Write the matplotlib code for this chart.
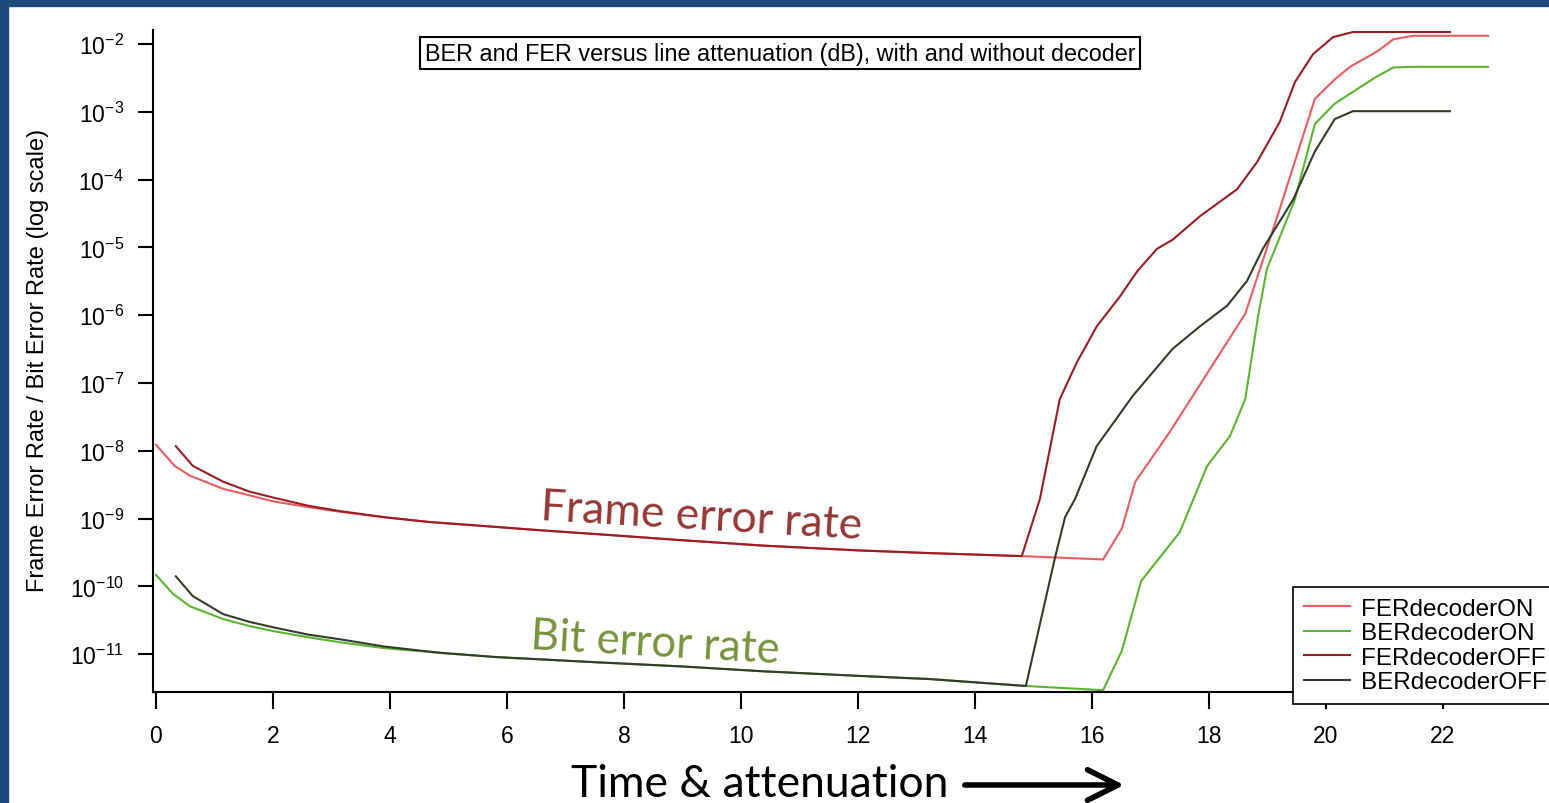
import matplotlib.pyplot as plt
from matplotlib.patches import Rectangle
from matplotlib.ticker import NullLocator

plt.rcParams['font.family'] = ['Liberation Sans', 'DejaVu Sans']
plt.rcParams['mathtext.fontset'] = 'custom'
plt.rcParams['mathtext.rm'] = 'Liberation Sans'
plt.rcParams['mathtext.default'] = 'regular'

# line attenuation (dB) vs error rate
fer_on_x = [0.0, 0.32, 0.58, 1.15, 1.6, 2.0, 2.6, 3.15, 3.9, 4.68, 5.5, 6.5, 7.54, 9.0, 10.38, 12.0, 13.23, 14.8, 16.19,
            16.51, 16.74, 17.33, 18.62, 19.21, 19.81, 20.15, 20.41, 20.89, 21.15, 21.49, 22.77]
fer_on_y = [1.23e-8, 6.0e-9, 4.3e-9, 2.75e-9, 2.2e-9, 1.8e-9, 1.48e-9, 1.26e-9, 1.05e-9, 8.9e-10, 7.9e-10, 6.8e-10,
            5.9e-10, 4.8e-10, 4.0e-10, 3.4e-10, 3.1e-10, 2.8e-10, 2.5e-10,
            7.1e-10, 3.5e-9, 1.9e-8, 1.05e-6, 3.7e-5, 1.55e-3, 3.0e-3, 4.6e-3, 7.9e-3, 1.17e-2, 1.32e-2, 1.32e-2]

ber_on_x = [0.0, 0.29, 0.58, 1.15, 1.6, 2.0, 2.6, 3.15, 3.9, 4.85, 5.8, 7.54, 9.0, 10.38, 12.0, 13.23, 14.87, 16.19,
            16.51, 16.84, 17.5, 17.97, 18.36, 18.62, 18.84, 18.99, 19.47, 19.81, 20.15, 20.84, 21.15, 21.49, 22.77]
ber_on_y = [1.48e-10, 7.8e-11, 5.1e-11, 3.3e-11, 2.6e-11, 2.2e-11, 1.78e-11, 1.5e-11, 1.23e-11, 1.05e-11, 9.1e-12,
            7.6e-12, 6.6e-12, 5.6e-12, 4.8e-12, 4.3e-12, 3.4e-12, 2.95e-12,
            1.12e-11, 1.2e-10, 6.3e-10, 6.0e-9, 1.66e-8, 5.8e-8, 9.8e-7, 4.8e-6, 5.1e-5, 6.6e-4, 1.32e-3, 3.2e-3,
            4.5e-3, 4.6e-3, 4.6e-3]

fer_off_x = [0.34, 0.63, 1.15, 1.6, 2.0, 2.6, 3.15, 3.9, 4.68, 5.5, 6.5, 7.54, 9.0, 10.38, 12.0, 13.23, 14.8,
             15.11, 15.45, 15.74, 16.08, 16.48, 16.77, 17.11, 17.38, 17.85, 18.48, 18.82, 19.21, 19.47, 19.78, 20.12,
             20.46, 22.12]
fer_off_y = [1.17e-8, 6.0e-9, 3.5e-9, 2.5e-9, 2.05e-9, 1.55e-9, 1.29e-9, 1.05e-9, 8.9e-10, 7.9e-10, 6.8e-10,
             5.9e-10, 4.8e-10, 4.0e-10, 3.4e-10, 3.1e-10, 2.8e-10,
             1.95e-9, 5.8e-8, 2.0e-7, 6.8e-7, 1.9e-6, 4.4e-6, 9.5e-6, 1.3e-5, 2.9e-5, 7.2e-5, 1.8e-4, 7.1e-4, 2.75e-3,
             7.1e-3, 1.26e-2, 1.5e-2, 1.5e-2]

ber_off_x = [0.34, 0.63, 1.15, 1.6, 2.0, 2.6, 3.15, 3.9, 4.85, 5.8, 7.54, 9.0, 10.38, 12.0, 13.23, 14.87,
             15.37, 15.54, 15.71, 16.08, 16.7, 17.38, 17.85, 18.31, 18.65, 18.92, 19.44, 19.81, 20.15, 20.46, 22.12]
ber_off_y = [1.41e-10, 7.2e-11, 3.9e-11, 3.0e-11, 2.5e-11, 1.95e-11, 1.66e-11, 1.3e-11, 1.05e-11, 9.1e-12,
             7.6e-12, 6.6e-12, 5.6e-12, 4.8e-12, 4.3e-12, 3.4e-12,
             2.7e-10, 1.05e-9, 1.95e-9, 1.17e-8, 6.5e-8, 3.2e-7, 6.9e-7, 1.38e-6, 3.2e-6, 9.5e-6, 5.1e-5, 2.6e-4,
             7.8e-4, 1.02e-3, 1.02e-3]

x_ticks = list(range(0, 23, 2))
y_exps = list(range(-2, -12, -1))

W, H = 1549, 804
fig = plt.figure(figsize=(W / 100, H / 100), dpi=100)
fig.patch.set_facecolor('white')

ax = fig.add_axes([153 / W, 1 - 693 / H, (W - 153) / W, (693 - 31.4) / H])
ax.plot(fer_on_x, fer_on_y, color='#EC5B5E', lw=1.5, label='FERdecoderON')
ax.plot(ber_on_x, ber_on_y, color='#5BB52F', lw=1.5, label='BERdecoderON')
ax.plot(fer_off_x, fer_off_y, color='#9B1C22', lw=1.5, label='FERdecoderOFF')
ax.plot(ber_off_x, ber_off_y, color='#323C2D', lw=1.5, label='BERdecoderOFF')

ax.set_yscale('log')
ax.set_xlim(-0.05, (W - 156) / 58.5)
ax.set_ylim(10 ** -11.557, 10 ** -1.80)
ax.set_xticks(x_ticks)
ax.set_xticklabels([str(t) for t in x_ticks])
ax.set_yticks([10.0 ** e for e in y_exps])
ax.set_yticklabels([r'$10^{%d}$' % e for e in y_exps])
ax.yaxis.set_minor_locator(NullLocator())
ax.tick_params(axis='x', direction='out', length=12, width=1.5, pad=11, labelsize=16.5)
ax.tick_params(axis='y', direction='out', length=11, width=1.5, pad=10, labelsize=16.5)
for s in ['top', 'right']:
    ax.spines[s].set_visible(False)
for s in ['left', 'bottom']:
    ax.spines[s].set_linewidth(1.5)

leg = ax.legend(loc='upper left', bbox_to_anchor=(1293 / W, 1 - 588 / H), bbox_transform=fig.transFigure,
                fontsize=17.5, frameon=True, fancybox=False, framealpha=1, edgecolor='black',
                borderpad=0.45, labelspacing=0.1, handlelength=1.9, handletextpad=0.45, borderaxespad=0)
leg.get_frame().set_linewidth(1.2)

fig.text(38 / W, 1 - 360 / H, 'Frame Error Rate / Bit Error Rate (log scale)', rotation=90,
         ha='center', va='center', fontsize=17)
fig.text(780 / W, 1 - 54 / H, 'BER and FER versus line attenuation (dB), with and without decoder',
         ha='center', va='center', fontsize=16.8,
         bbox=dict(boxstyle='square,pad=0.2', fc='white', ec='black', lw=1.5))

fig.text(701 / W, 1 - 517 / H, 'Frame error rate', color='#953735', rotation=-3.4,
         ha='center', va='center', fontsize=32, family=['Lato', 'DejaVu Sans'])
fig.text(655 / W, 1 - 644 / H, 'Bit error rate', color='#77933C', rotation=-3.3,
         ha='center', va='center', fontsize=31.5, family=['Lato', 'DejaVu Sans'])
fig.text(760 / W, 1 - 785 / H, 'Time & attenuation', color='black',
         ha='center', va='center', fontsize=32, family=['Lato', 'DejaVu Sans'])
ax.annotate('', xy=(1127 / W, 1 - 786 / H), xytext=(962 / W, 1 - 786 / H),
            xycoords='figure fraction', textcoords='figure fraction',
            arrowprops=dict(arrowstyle='->,head_length=2.2,head_width=1.1', lw=4, color='black'))

# blue slide border on the left and top
fig.patches.append(Rectangle((0, 0), 8 / W, 1, transform=fig.transFigure, color='#1F497D', zorder=10))
fig.patches.append(Rectangle((0, 1 - 7 / H), 1, 7 / H, transform=fig.transFigure, color='#1F497D', zorder=10))

fig.savefig('out.png', dpi=100)
